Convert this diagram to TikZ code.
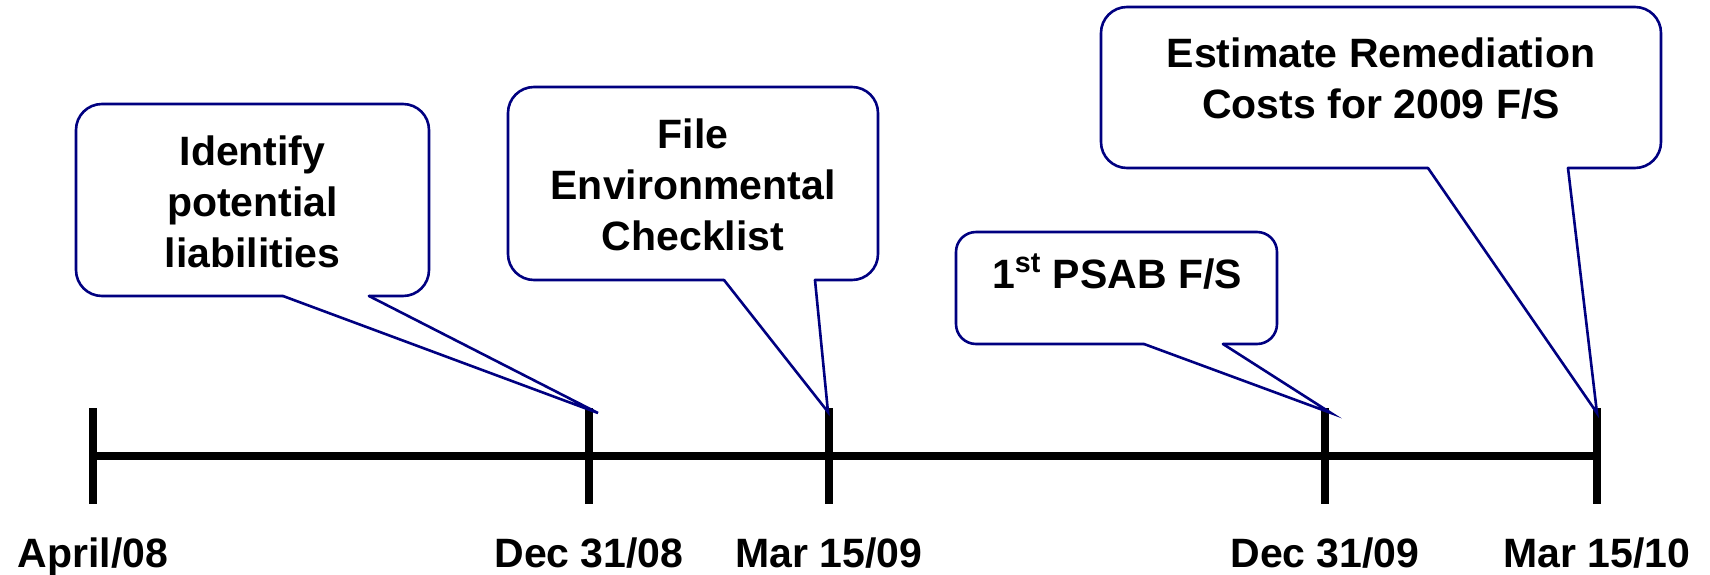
\documentclass[tikz,border=0pt]{standalone}
\usepackage{fontspec}
\setmainfont{Liberation Sans}
\definecolor{calloutblue}{RGB}{0,0,128}
\begin{document}
\begin{tikzpicture}[x=0.5pt,y=-0.5pt,
  callout/.style={draw=calloutblue, line width=1.3pt, line cap=round, line join=round},
  pointer/.style={draw=calloutblue, line width=1.3pt, line cap=round, line join=miter},
  tickline/.style={line width=4pt, black},
  mainline/.style={line width=4pt, black},
  ctext/.style={font=\fontsize{20.5}{25.5}\selectfont\bfseries, align=center, anchor=base, inner sep=0pt},
  dtext/.style={font=\fontsize{20.5}{25.5}\selectfont\bfseries, anchor=base, inner sep=0pt}]
\useasboundingbox (0,0) rectangle (1710,574);

% timeline
\coordinate (lineL) at (89,456);
\coordinate (lineR) at (1601,456);
\draw[mainline] (lineL) -- (lineR);
\foreach \n/\x in {k1/93,k2/589,k3/829,k4/1325,k5/1597}{
  \coordinate (\n top) at (\x,408);
  \coordinate (\n bot) at (\x,504);
  \draw[tickline] (\n top) -- (\n bot);
}

% date labels
\node[dtext] (d1) at (93,567) {April/08};
\node[dtext] (d2) at (589,567) {Dec 31/08};
\node[dtext] (d3) at (829,567) {Mar 15/09};
\node[dtext] (d4) at (1325,567) {Dec 31/09};
\node[dtext] (d5) at (1597,567) {Mar 15/10};

% pointer tips
\coordinate (tip1) at (598,413);
\coordinate (tip2) at (828,412);
\coordinate (tip3) at (1331,413);
\coordinate (tip4) at (1597,413);

% callout 1
\coordinate (b1L) at (283,296);
\coordinate (b1R) at (369,296);
\draw[callout, rounded corners=13pt] (b1L) -- (76,296) -- (76,104) -- (429,104) -- (429,296) -- (b1R);
\draw[pointer] (b1L) -- (tip1) -- (b1R);
\node[ctext] (c1) at (252.5,267) {Identify\\potential\\liabilities};

% callout 2
\coordinate (b2L) at (724,280);
\coordinate (b2R) at (815,280);
\draw[callout, rounded corners=13pt] (b2L) -- (508,280) -- (508,87) -- (878,87) -- (878,280) -- (b2R);
\draw[pointer] (b2L) -- (tip2) -- (b2R);
\node[ctext] (c2) at (693,250) {File\\Environmental\\Checklist};

% callout 3
\coordinate (b3L) at (1144,344);
\coordinate (b3R) at (1223,344);
\draw[callout, rounded corners=10pt] (b3L) -- (956,344) -- (956,232) -- (1277,232) -- (1277,344) -- (b3R);
\draw[pointer] (b3L) -- (tip3) -- (b3R);
\node[ctext] (c3) at (1117,288) {1\textsuperscript{st} PSAB F/S};

% callout 4
\coordinate (b4L) at (1428,168);
\coordinate (b4R) at (1568,168);
\draw[callout, rounded corners=13pt] (b4L) -- (1101,168) -- (1101,7) -- (1661,7) -- (1661,168) -- (b4R);
\draw[pointer] (b4L) -- (tip4) -- (b4R);
\node[ctext] (c4) at (1381,118) {Estimate Remediation\\Costs for 2009 F/S};
\end{tikzpicture}
\end{document}
